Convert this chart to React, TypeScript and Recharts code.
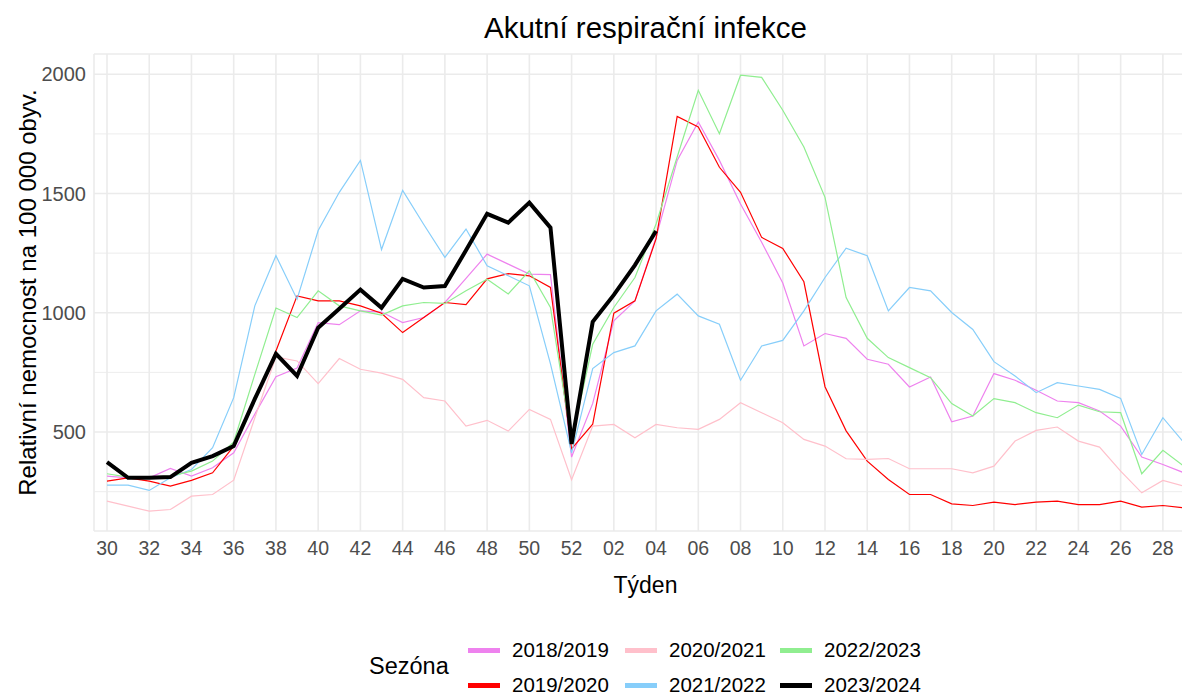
import React from "react";
import {
  LineChart,
  Line,
  XAxis,
  YAxis,
  CartesianGrid,
  ReferenceLine,
  Label,
} from "recharts";

// Weeks of the season, 30 .. 52, then 01 .. 29
const weeks = [
  "30", "31", "32", "33", "34", "35", "36", "37", "38", "39", "40", "41",
  "42", "43", "44", "45", "46", "47", "48", "49", "50", "51", "52",
  "01", "02", "03", "04", "05", "06", "07", "08", "09", "10", "11", "12",
  "13", "14", "15", "16", "17", "18", "19", "20", "21", "22", "23", "24",
  "25", "26", "27", "28", "29",
];

const s2018 = [
  315, 308, 308, 347, 315, 350, 413, 575, 732, 768, 959, 950, 1008, 1003,
  959, 980, 1043, 1144, 1246, 1204, 1162, 1160, 395, 620, 966, 1050, 1316,
  1639, 1800, 1639, 1456, 1296, 1125, 861, 913, 893, 805, 784, 689, 731,
  543, 567, 745, 717, 675, 630, 623, 588, 525, 395, 364, 329,
];
const s2019 = [
  294, 308, 294, 273, 297, 329, 441, 635, 840, 1071, 1050, 1050, 1029, 998,
  917, 980, 1043, 1034, 1142, 1164, 1155, 1106, 429, 533, 998, 1050, 1310,
  1823, 1779, 1610, 1505, 1316, 1270, 1130, 690, 505, 378, 301, 238, 238,
  199, 192, 206, 196, 206, 210, 196, 196, 210, 185, 192, 182,
];
const s2020 = [
  210, 189, 168, 175, 231, 238, 298, 560, 815, 798, 703, 808, 763, 747,
  721, 644, 630, 525, 549, 504, 595, 553, 300, 525, 532, 476, 532,
  518, 511, 553, 623, 581, 539, 469, 441, 388, 385, 389, 346, 346,
  346, 329, 357, 462, 507, 521, 462, 437, 336, 245, 297, 273,
];
const s2021 = [
  277, 277, 255, 308, 343, 434, 644, 1029, 1239, 1057, 1345, 1505, 1639, 1265,
  1513, 1370, 1232, 1351, 1197, 1155, 1113, 786, 413, 766, 833, 861, 1008,
  1078, 987, 952, 717, 861, 884, 1008, 1148, 1271, 1239, 1008, 1106, 1092,
  1001, 930, 795, 735, 665, 707, 693, 679, 641, 406, 560, 455,
];
const s2022 = [
  325, 311, 311, 315, 336, 378, 458, 742, 1020, 980, 1092, 1029, 1008, 990,
  1029, 1043, 1039, 1092, 1141, 1079, 1176, 1022, 462, 868, 1022, 1148, 1372,
  1653, 1933, 1751, 1996, 1987, 1849, 1695, 1484, 1064, 893, 812, 770, 728,
  619, 567, 640, 623, 581, 560, 613, 585, 581, 325, 423, 357,
];
const s2023 = [
  374, 308, 308, 311, 371, 399, 441, 639, 828, 735, 937, 1017, 1097, 1021,
  1142, 1106, 1112, 1262, 1415, 1378, 1462, 1357, 450, 962, 1075, 1200, 1343,
];

const yTicks = [500, 1000, 1500, 2000];
const yMinor = [250, 750, 1250, 1750];

const seasons = [
  { key: "s2018", name: "2018/2019", color: "#EE82EE", values: s2018 },
  { key: "s2019", name: "2019/2020", color: "#FF0000", values: s2019 },
  { key: "s2020", name: "2020/2021", color: "#FFC0CB", values: s2020 },
  { key: "s2021", name: "2021/2022", color: "#87CEFA", values: s2021 },
  { key: "s2022", name: "2022/2023", color: "#90EE90", values: s2022 },
  { key: "s2023", name: "2023/2024", color: "#000000", values: s2023 },
];

const data = weeks.map((week, i) => {
  const row: Record<string, string | number | null> = { week };
  seasons.forEach((s) => {
    row[s.key] = i < s.values.length ? s.values[i] : null;
  });
  return row;
});

const FONT = '"Liberation Sans", Arial, sans-serif';
const GRID = "#EBEBEB";

// legend is filled column-wise like ggplot (2 rows x 3 columns)
const legendCols = [
  { left: 468, items: [seasons[0], seasons[1]] },
  { left: 625, items: [seasons[2], seasons[3]] },
  { left: 780, items: [seasons[4], seasons[5]] },
];

function SeasonLegend() {
  return (
    <div style={{ position: "absolute", left: 0, top: 0, fontFamily: FONT }}>
      <div
        style={{
          position: "absolute",
          left: 369,
          top: 651,
          fontSize: 23.5,
          lineHeight: "30px",
          color: "#000",
          whiteSpace: "nowrap",
        }}
      >
        Sezóna
      </div>
      {legendCols.map((col, ci) =>
        col.items.map((s, ri) => (
          <div
            key={s.key}
            style={{
              position: "absolute",
              left: col.left,
              top: 634 + ri * 35,
              height: 32,
              display: "flex",
              alignItems: "center",
              whiteSpace: "nowrap",
            }}
          >
            <span
              style={{
                display: "inline-block",
                width: 32,
                height: 5,
                background: s.color,
                marginRight: 12,
              }}
            />
            <span style={{ fontSize: 20.5, color: "#000" }}>{s.name}</span>
          </div>
        ))
      )}
    </div>
  );
}

export default function App() {
  return (
    <div
      style={{
        position: "absolute",
        left: 0,
        top: 0,
        width: 1182,
        height: 695,
        overflow: "hidden",
        background: "#fff",
        fontFamily: FONT,
      }}
    >
      <div
        style={{
          position: "absolute",
          left: 0,
          width: 1291,
          top: 11,
          textAlign: "center",
          fontSize: 29.5,
          color: "#000",
          whiteSpace: "nowrap",
        }}
      >
        Akutní respirační infekce
      </div>

      <div style={{ position: "absolute", left: 0, top: 0 }}>
        <LineChart
          width={1197}
          height={600}
          data={data}
          margin={{ top: 54, right: 0, bottom: 0, left: 0 }}
        >
          <CartesianGrid stroke={GRID} strokeWidth={1.6} />
          {yMinor.map((v) => (
            <ReferenceLine key={v} y={v} stroke={GRID} strokeWidth={0.9} />
          ))}
          <XAxis
            dataKey="week"
            type="category"
            interval={1}
            padding={{ left: 13, right: 13 }}
            axisLine={false}
            tickLine={false}
            tickSize={0}
            tickMargin={10}
            height={69}
            tick={{ fontSize: 19.5, fill: "#4D4D4D", fontFamily: FONT }}
          >
            <Label
              value="Týden"
              position="insideBottom"
              offset={7}
              style={{ fontSize: 23, fill: "#000", fontFamily: FONT }}
            />
          </XAxis>
          <YAxis
            type="number"
            domain={[85, 2085]}
            ticks={yTicks}
            width={94}
            axisLine={false}
            tickLine={false}
            tickSize={0}
            tickMargin={8}
            tick={{ fontSize: 20, fill: "#4D4D4D", fontFamily: FONT }}
          >
            <Label
              value="Relativní nemocnost na 100 000 obyv."
              angle={-90}
              position="insideLeft"
              offset={27}
              style={{ fontSize: 24, fill: "#000", fontFamily: FONT, textAnchor: "middle" }}
            />
          </YAxis>
          {seasons.map((s) => (
            <Line
              key={s.key}
              dataKey={s.key}
              name={s.name}
              type="linear"
              stroke={s.color}
              strokeWidth={s.key === "s2023" ? 4 : 1.2}
              dot={false}
              activeDot={false}
              isAnimationActive={false}
            />
          ))}
        </LineChart>
      </div>

      <SeasonLegend />
    </div>
  );
}
